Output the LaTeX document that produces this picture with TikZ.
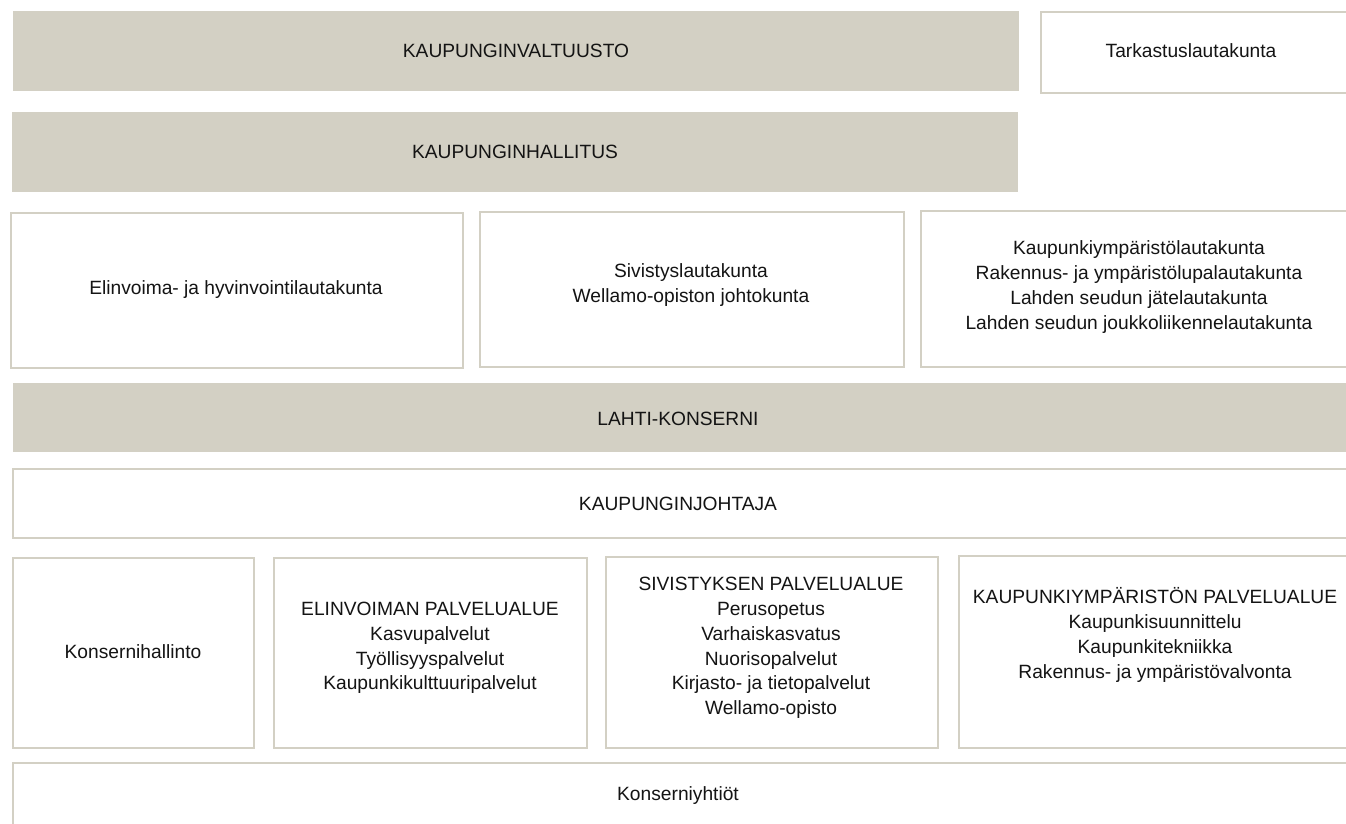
\documentclass[tikz,border=0pt]{standalone}
\usepackage{fontspec}
\setmainfont{Liberation Sans}
\definecolor{bordc}{HTML}{D3D0C4}
\definecolor{fillc}{HTML}{D3D0C4}
\definecolor{txtc}{HTML}{141414}
\tikzset{
  outlinebox/.style={draw=bordc, line width=2.3pt, fill=white, rectangle, inner sep=0pt, anchor=north west},
  filledbox/.style={fill=fillc, draw=none, rectangle, inner sep=0pt, anchor=north west},
  txt/.style={align=center, inner sep=0pt, text=txtc, font=\fontsize{19.2}{24.8}\selectfont}
}
\begin{document}
\begin{tikzpicture}[x=1pt, y=-1pt]
\useasboundingbox (0,0) rectangle (1346,823);
\clip (0,0) rectangle (1346,823);
% boxes
\node[filledbox, minimum width=1006pt, minimum height=80pt] (valt) at (13,11) {};
\node[outlinebox, minimum width=330pt, minimum height=81pt] (tark) at (1040,11) {};
\node[filledbox, minimum width=1006pt, minimum height=80pt] (hall) at (12,112) {};
\node[outlinebox, minimum width=452pt, minimum height=155pt] (elh) at (10,212) {};
\node[outlinebox, minimum width=424pt, minimum height=155pt] (sivl) at (479,211) {};
\node[outlinebox, minimum width=450pt, minimum height=156pt] (kyl) at (920,210) {};
\node[filledbox, minimum width=1350pt, minimum height=69pt] (lahti) at (13,383) {};
\node[outlinebox, minimum width=1350pt, minimum height=69pt] (joht) at (12,468) {};
\node[outlinebox, minimum width=241pt, minimum height=190pt] (kh) at (12,557) {};
\node[outlinebox, minimum width=313pt, minimum height=190pt] (ev) at (273,557) {};
\node[outlinebox, minimum width=332pt, minimum height=191pt] (siv) at (605,556) {};
\node[outlinebox, minimum width=410pt, minimum height=192pt] (kym) at (958,555) {};
\node[outlinebox, minimum width=1350pt, minimum height=90pt] (ky) at (12,762) {};
% texts
\node[txt] (tvalt) at (516,51) {KAUPUNGINVALTUUSTO};
\node[txt] (ttark) at (1191,51) {Tarkastuslautakunta};
\node[txt] (thall) at (515,152) {KAUPUNGINHALLITUS};
\node[txt] (telh) at (236,290) {Elinvoima- ja hyvinvointilautakunta};
\node[txt] (tsivl) at (691,285) {Sivistyslautakunta\\Wellamo-opiston johtokunta};
\node[txt] (tkyl) at (1139,287) {Kaupunkiympäristölautakunta\\Rakennus- ja ympäristölupalautakunta\\Lahden seudun jätelautakunta\\Lahden seudun joukkoliikennelautakunta};
\node[txt] (tlahti) at (678,419) {LAHTI-KONSERNI};
\node[txt] (tjoht) at (678,504) {KAUPUNGINJOHTAJA};
\node[txt] (tkh) at (133,652) {Konsernihallinto};
\node[txt] (tev) at (430,648) {ELINVOIMAN PALVELUALUE\\Kasvupalvelut\\Työllisyyspalvelut\\Kaupunkikulttuuripalvelut};
\node[txt] (tsiv) at (771,648) {SIVISTYKSEN PALVELUALUE\\Perusopetus\\Varhaiskasvatus\\Nuorisopalvelut\\Kirjasto- ja tietopalvelut\\Wellamo-opisto};
\node[txt] (tkym) at (1155,635) {KAUPUNKIYMPÄRISTÖN PALVELUALUE\\Kaupunkisuunnittelu\\Kaupunkitekniikka\\Rakennus- ja ympäristövalvonta};
\node[txt] (tky) at (678,796) {Konserniyhtiöt};
\end{tikzpicture}
\end{document}
